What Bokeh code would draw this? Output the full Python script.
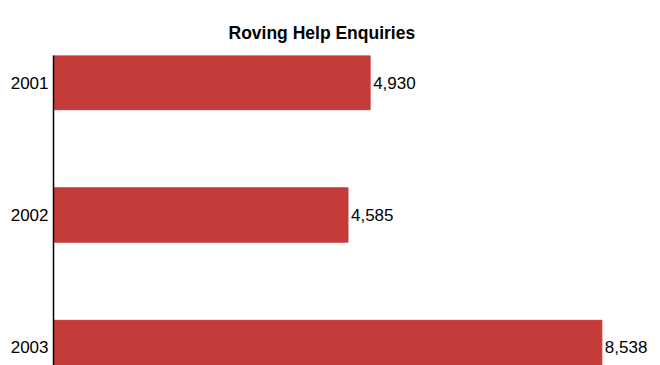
from bokeh.plotting import figure
from bokeh.models import Range1d, ColumnDataSource, Title
from bokeh.core.properties import value
from bokeh.embed import file_html
from bokeh.resources import INLINE

title_text = "Roving Help Enquiries"
years = ["2001", "2002", "2003"]
enquiries = [4930, 4585, 8538]

idx = list(range(len(years)))
labels = [f"{v:,}" for v in enquiries]
src = ColumnDataSource(dict(y=idx, v=enquiries, lab=labels))

p = figure(width=660, height=365, output_backend="svg", toolbar_location=None,
           x_range=Range1d(0, 9451), y_range=Range1d(2.136, -0.204),
           min_border_left=53, min_border_right=0, min_border_bottom=0,
           min_border_top=55)

# real title, then an invisible spacer between it and the frame
p.add_layout(Title(text=title_text, align="left", offset=175, vertical_align="top",
                   standoff=22, text_font="Liberation Sans", text_font_size="17.5px",
                   text_font_style="bold", text_color="#000000"), "above")
p.add_layout(Title(text=".", text_alpha=0, text_font_size="6px", standoff=2), "above")

p.hbar(y="y", left=0, right="v", height=0.41, source=src,
       fill_color="#C43B39", line_color="#C43B39")
p.text(x="v", y="y", text="lab", source=src, x_offset=3,
       text_baseline="middle", text_align="left",
       text_font=value("Liberation Sans"), text_font_size="17px", text_color="#000000")

p.xaxis.visible = False
p.yaxis.ticker = idx
p.yaxis.major_label_overrides = {i: y for i, y in zip(idx, years)}
p.yaxis.major_tick_line_color = None
p.yaxis.minor_tick_line_color = None
p.yaxis.major_tick_out = 0
p.yaxis.major_label_standoff = 5
p.yaxis.axis_line_color = "#000000"
p.yaxis.axis_line_width = 1.5
p.yaxis.major_label_text_font = "Liberation Sans"
p.yaxis.major_label_text_font_size = "17px"
p.yaxis.major_label_text_color = "#000000"
p.xgrid.visible = False
p.ygrid.visible = False
p.outline_line_color = None

open("out.html", "w").write(file_html(p, INLINE))
